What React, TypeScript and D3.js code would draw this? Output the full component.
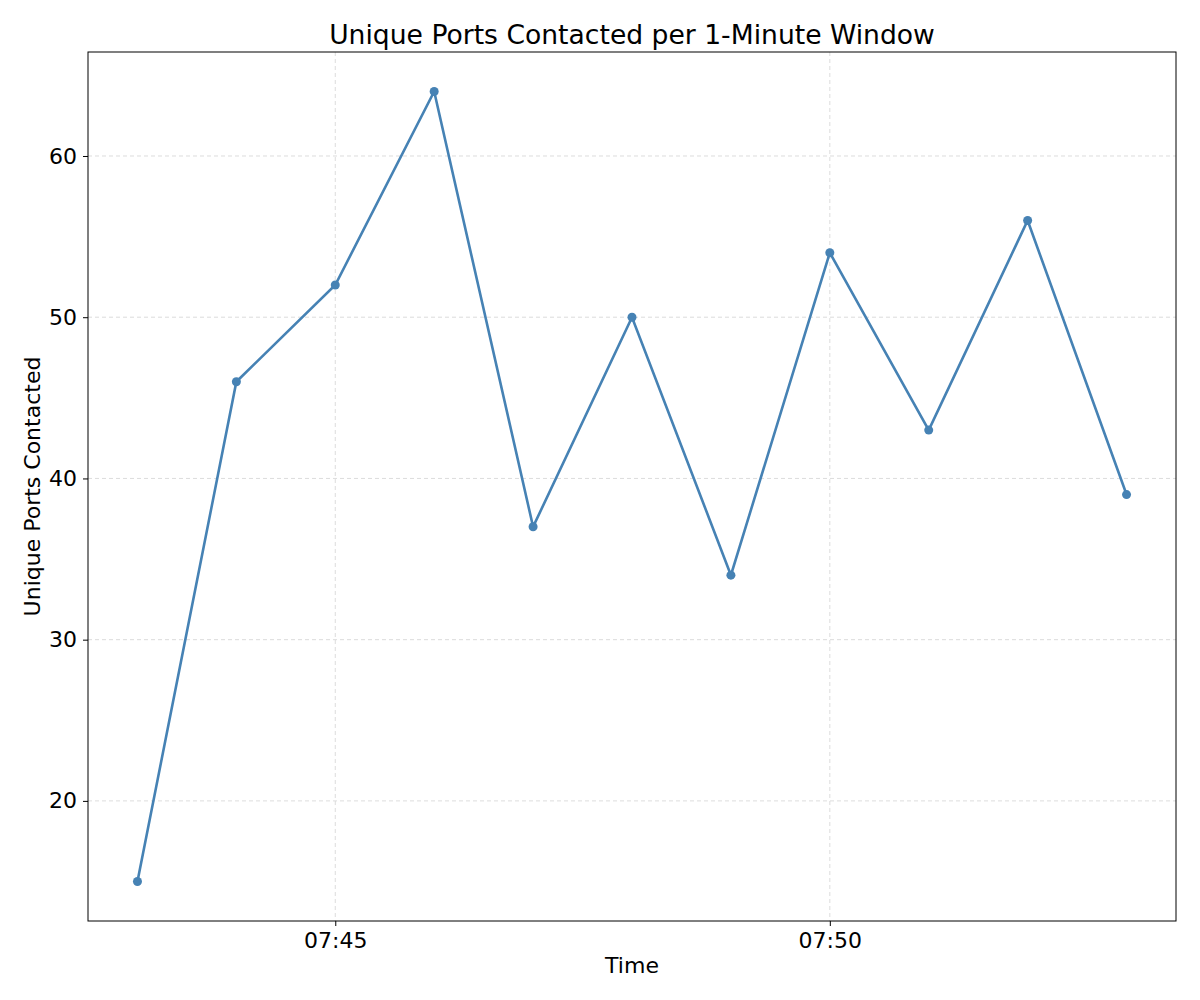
import * as d3 from "d3";
import React, { RefObject, useEffect, useRef } from "react";

const times = ["07:43", "07:44", "07:45", "07:46", "07:47", "07:48", "07:49", "07:50", "07:51", "07:52", "07:53"];
const ports = [15, 46, 52, 64, 37, 50, 34, 54, 43, 56, 39];
const yTicks = [20, 30, 40, 50, 60];
const xTicks = ["07:45", "07:50"];

const toDate = (t: string) => {
  const [h, m] = t.split(":").map(Number);
  return new Date(Date.UTC(2024, 0, 1, h, m));
};

const App = () => {
  const d3Ref: RefObject<HTMLDivElement> = useRef(null);

  useEffect(() => {
    const width = 1200;
    const height = 1000;
    const margin = { top: 52, right: 24, bottom: 79, left: 88 };
    const font = "DejaVu Sans, sans-serif";

    d3.select(d3Ref.current).selectAll("*").remove();
    const svg = d3.select(d3Ref.current)
      .append("svg")
      .attr("width", width)
      .attr("height", height)
      .style("display", "block");

    const dates = times.map(toDate);
    const pad = 0.05 * (dates[dates.length - 1].getTime() - dates[0].getTime());
    const x = d3.scaleUtc()
      .domain([new Date(dates[0].getTime() - pad), new Date(dates[dates.length - 1].getTime() + pad)])
      .range([margin.left, width - margin.right]);
    const ext = d3.extent(ports) as [number, number];
    const ypad = 0.05 * (ext[1] - ext[0]);
    const y = d3.scaleLinear()
      .domain([ext[0] - ypad, ext[1] + ypad])
      .range([height - margin.bottom, margin.top]);

    const grid = svg.append("g");
    xTicks.forEach((t) => {
      grid.append("line")
        .attr("x1", x(toDate(t))).attr("x2", x(toDate(t)))
        .attr("y1", margin.top).attr("y2", height - margin.bottom)
        .attr("stroke", "#d3d3d3").attr("stroke-dasharray", "4,3").attr("stroke-width", 0.8);
    });
    yTicks.forEach((t) => {
      grid.append("line")
        .attr("x1", margin.left).attr("x2", width - margin.right)
        .attr("y1", y(t)).attr("y2", y(t))
        .attr("stroke", "#d3d3d3").attr("stroke-dasharray", "4,3").attr("stroke-width", 0.8);
    });

    const xAxis = svg.append("g")
      .attr("transform", `translate(0, ${height - margin.bottom})`)
      .call(d3.axisBottom(x).tickValues(xTicks.map(toDate)).tickFormat(d3.utcFormat("%H:%M") as any).tickSize(5).tickPadding(6));
    const yAxis = svg.append("g")
      .attr("transform", `translate(${margin.left}, 0)`)
      .call(d3.axisLeft(y).tickValues(yTicks).tickSize(5).tickPadding(6));
    [xAxis, yAxis].forEach((a) => {
      a.attr("font-size", null).attr("font-family", null);
      a.select(".domain").remove();
      a.selectAll("text").style("font-family", font).style("font-size", "22px").attr("fill", "#000");
    });

    svg.append("rect")
      .attr("x", margin.left).attr("y", margin.top)
      .attr("width", width - margin.left - margin.right)
      .attr("height", height - margin.top - margin.bottom)
      .attr("fill", "none").attr("stroke", "#000").attr("stroke-width", 1);

    const line = d3.line<number>()
      .x((_, i) => x(dates[i]))
      .y((d) => y(d));
    svg.append("path")
      .datum(ports)
      .attr("d", line)
      .attr("fill", "none")
      .attr("stroke", "steelblue")
      .attr("stroke-width", 2.6);
    svg.selectAll("circle.pt")
      .data(ports)
      .enter()
      .append("circle")
      .attr("class", "pt")
      .attr("cx", (_, i) => x(dates[i]))
      .attr("cy", (d) => y(d))
      .attr("r", 4.5)
      .attr("fill", "steelblue");

    svg.append("text")
      .attr("x", (margin.left + width - margin.right) / 2).attr("y", 44)
      .attr("text-anchor", "middle").style("font-family", font).style("font-size", "26.6px")
      .text("Unique Ports Contacted per 1-Minute Window");
    svg.append("text")
      .attr("x", (margin.left + width - margin.right) / 2).attr("y", 973)
      .attr("text-anchor", "middle").style("font-family", font).style("font-size", "22px")
      .text("Time");
    svg.append("text")
      .attr("transform", `translate(40, ${(margin.top + height - margin.bottom) / 2}) rotate(-90)`)
      .attr("text-anchor", "middle").style("font-family", font).style("font-size", "22px")
      .text("Unique Ports Contacted");
  }, [d3Ref]);

  return <div ref={d3Ref} style={{ margin: -8 }} />;
};

export default App;
